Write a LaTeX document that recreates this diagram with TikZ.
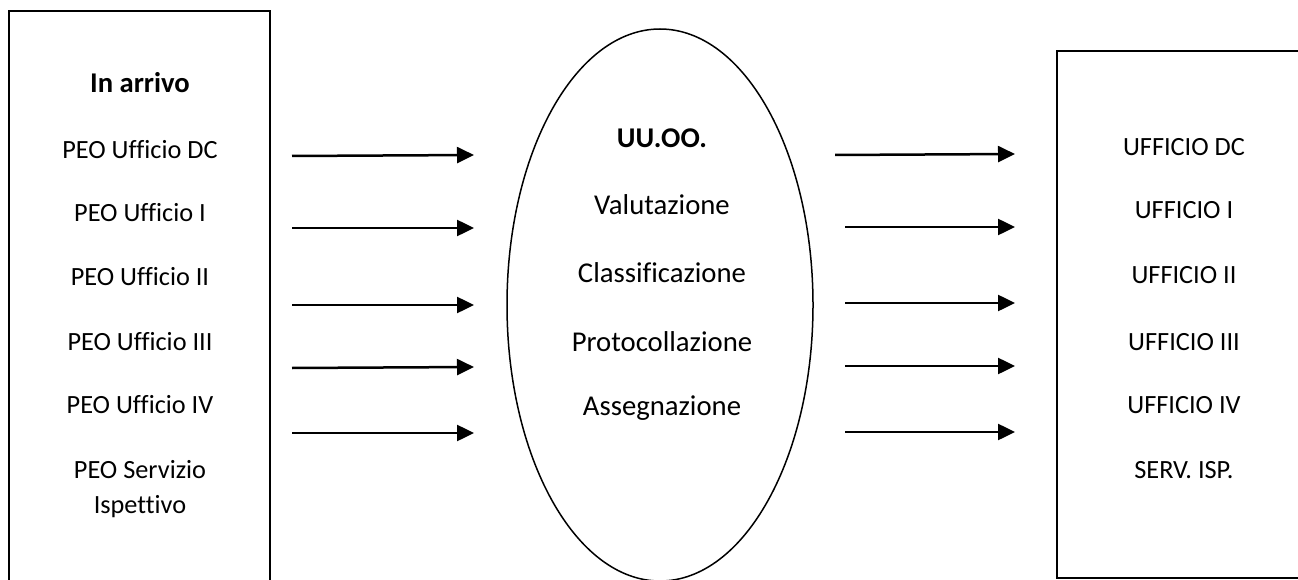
\documentclass[tikz,border=0pt]{standalone}
\usepackage{fontspec}
\setmainfont[Ligatures={NoCommon}]{Carlito}
\usetikzlibrary{arrows.meta,shapes.geometric}
\tikzset{
  txt/.style={inner sep=0pt, font=\fontsize{26.3}{30}\selectfont},
  midtxt/.style={inner sep=0pt, font=\fontsize{28.7}{32}\selectfont},
  boldtxt/.style={inner sep=0pt, font=\fontsize{28.6}{32}\selectfont\bfseries},
  panel/.style={draw, line width=2pt, inner sep=0pt},
  flow/.style={line width=2.5pt, -{Triangle[length=17pt,width=16pt]}}
}
\begin{document}
\begin{tikzpicture}[x=1pt,y=-1pt]
\useasboundingbox (0,0) rectangle (1298,580);
\clip (0,0) rectangle (1298,580);
\fill[white] (0,0) rectangle (1298,580);
% panels
\node[panel, rectangle, minimum width=261pt, minimum height=620pt] (left) at (139.5,321) {};
\node[panel, rectangle, minimum width=290pt, minimum height=527pt] (right) at (1202,314.5) {};
\node[draw, ellipse, line width=1.5pt, inner sep=0pt, minimum width=306pt, minimum height=552pt] (mid) at (660,305) {};
% left texts
\node[boldtxt] (inarr) at (140,83) {In arrivo};
\node[txt] (l1) at (140,150) {PEO Ufficio DC};
\node[txt] (l2) at (140,213) {PEO Ufficio I};
\node[txt] (l3) at (140,277) {PEO Ufficio II};
\node[txt] (l4) at (140,342) {PEO Ufficio III};
\node[txt] (l5) at (140,405) {PEO Ufficio IV};
\node[txt] (l6) at (140,470) {PEO Servizio};
\node[txt] (l7) at (140,507) {Ispettivo};
% middle texts
\node[boldtxt] (uuoo) at (662,138) {UU.OO.};
\node[midtxt] (m1) at (662,205) {Valutazione};
\node[midtxt] (m2) at (662,273) {Classificazione};
\node[midtxt] (m3) at (662,342) {Protocollazione};
\node[midtxt] (m4) at (662,408) {Assegnazione};
% right texts
\node[txt] (r1) at (1184,147) {UFFICIO DC};
\node[txt] (r2) at (1184,210) {UFFICIO I};
\node[txt] (r3) at (1184,275) {UFFICIO II};
\node[txt] (r4) at (1184,342) {UFFICIO III};
\node[txt] (r5) at (1184,405) {UFFICIO IV};
\node[txt] (r6) at (1184,470) {SERV. ISP.};
% arrow endpoints
\coordinate (a1s) at (292,156); \coordinate (a1e) at (474,155);
\coordinate (a2s) at (292,228); \coordinate (a2e) at (474,228);
\coordinate (a3s) at (292,305); \coordinate (a3e) at (474,305);
\coordinate (a4s) at (292,368); \coordinate (a4e) at (474,367);
\coordinate (a5s) at (292,433); \coordinate (a5e) at (474,433);
\coordinate (b1s) at (835,155); \coordinate (b1e) at (1015,154);
\coordinate (b2s) at (845,227); \coordinate (b2e) at (1015,227);
\coordinate (b3s) at (845,303); \coordinate (b3e) at (1015,303);
\coordinate (b4s) at (845,366); \coordinate (b4e) at (1015,366);
\coordinate (b5s) at (845,432); \coordinate (b5e) at (1015,432);
\foreach \i in {1,...,5}{
  \draw[flow] (a\i s) -- (a\i e);
  \draw[flow] (b\i s) -- (b\i e);
}
\end{tikzpicture}
\end{document}
